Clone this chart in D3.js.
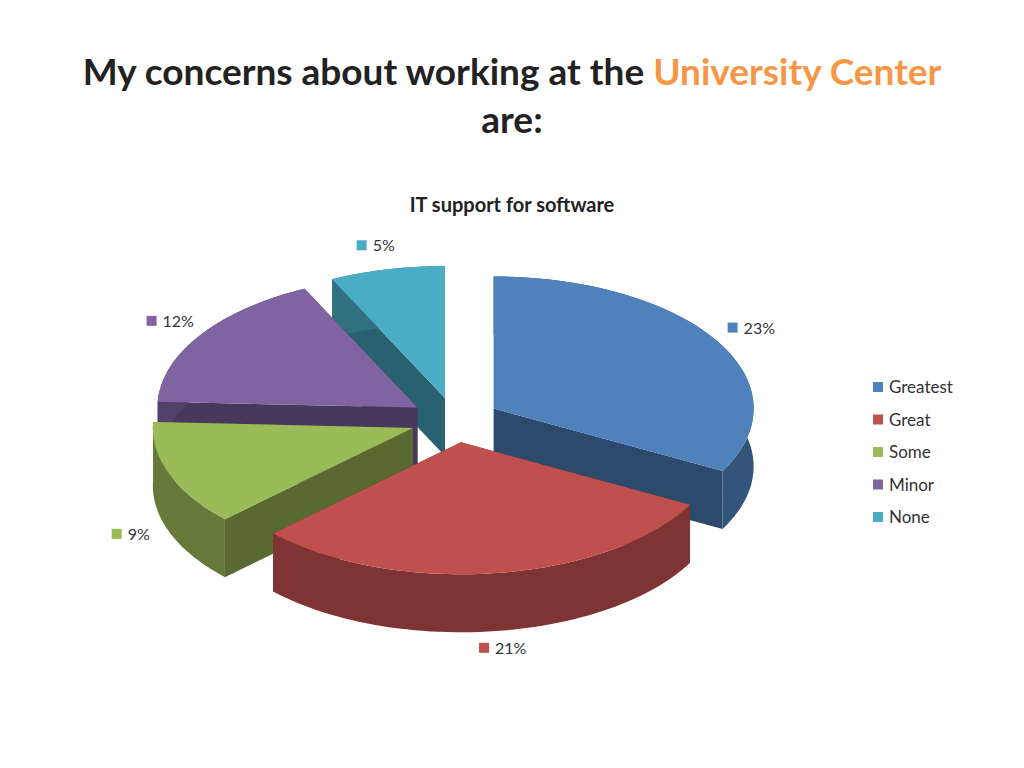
<!DOCTYPE html>
<html><head><meta charset="utf-8">
<script src="https://cdn.jsdelivr.net/npm/d3@7"></script>
<style>body{margin:0;background:#fff}text{font-family:Lato,"Open Sans",sans-serif}</style>
</head><body><svg id="chart" width="1024" height="768"></svg>
<script>
// data
var categories = ["Greatest", "Great", "Some", "Minor", "None"];
var values = [23, 21, 9, 12, 5];
var colors = ["#4F81BD", "#C0504D", "#9BBB59", "#8064A2", "#4BACC6"];

var svg = d3.select("#chart");

// title
var t = svg.append("text").attr("x", 512).attr("y", 85).attr("text-anchor", "middle")
    .style("font-size", "37px").style("font-weight", "bold").style("fill", "#222");
t.append("tspan").text("My concerns about working at the ");
t.append("tspan").style("fill", "#F79646").text("University Center");
svg.append("text").attr("x", 512).attr("y", 133).attr("text-anchor", "middle")
    .style("font-size", "37px").style("font-weight", "bold").style("fill", "#222").text("are:");
svg.append("text").attr("x", 512).attr("y", 212).attr("text-anchor", "middle")
    .style("font-size", "20px").style("font-weight", "bold").style("fill", "#222").text("IT support for software");

// pseudo 3D pie
var cx = 455, cy = 420, rx = 260, ry = 132, depth = 58, explode = 45;
var angle = d3.scaleLinear().domain([0, d3.sum(values)]).range([0, 2 * Math.PI]);
var cum = 0;
var slices = values.map(function(v, i) {
    var s = { i: i, a0: angle(cum), a1: angle(cum + v), v: v };
    cum += v;
    s.mid = (s.a0 + s.a1) / 2;
    s.ox = cx + explode * Math.sin(s.mid);
    s.oy = cy - explode * 0.5 * Math.cos(s.mid);
    return s;
});

function pt(s, a, dy) {
    return [s.ox + rx * Math.sin(a), s.oy - ry * Math.cos(a) + (dy || 0)];
}
function arcPts(s, a0, a1, dy) {
    var n = 60, out = [];
    for (var k = 0; k <= n; k++) out.push(pt(s, a0 + (a1 - a0) * k / n, dy));
    return out;
}
var line = d3.line();

slices.slice().sort(function(a, b) { return -Math.cos(a.mid) - -Math.cos(b.mid); })
  .forEach(function(s) {
    var c = d3.color(colors[s.i]);
    var g = svg.append("g");
    // radial walls
    [s.a0, s.a1].forEach(function(a) {
        var p = pt(s, a);
        g.append("path").attr("d", line([[s.ox, s.oy], p, [p[0], p[1] + depth], [s.ox, s.oy + depth]]) + "Z")
            .attr("fill", c.darker(1.6));
    });
    // outer wall
    var top = arcPts(s, s.a0, s.a1, 0), bot = arcPts(s, s.a0, s.a1, depth).reverse();
    g.append("path").attr("d", line(top.concat(bot)) + "Z").attr("fill", c.darker(1.2));
    // top
    g.append("path").attr("d", line([[s.ox, s.oy]].concat(top)) + "Z").attr("fill", c.toString());
});

// data labels
slices.forEach(function(s) {
    var lx = cx + rx * 1.32 * Math.sin(s.mid);
    var ly = cy - ry * 1.35 * Math.cos(s.mid) + (Math.cos(s.mid) < 0 ? depth * 0.9 : 0);
    svg.append("rect").attr("x", lx - 22).attr("y", ly - 6).attr("width", 10).attr("height", 10).attr("fill", colors[s.i]);
    svg.append("text").attr("x", lx - 6).attr("y", ly + 5).style("font-size", "16px").style("fill", "#333")
        .text(s.v + "%");
});

// legend
var leg = svg.append("g").attr("transform", "translate(873,382)");
categories.forEach(function(c, i) {
    leg.append("rect").attr("x", 0).attr("y", i * 32.5).attr("width", 10).attr("height", 10).attr("fill", colors[i]);
    leg.append("text").attr("x", 16).attr("y", i * 32.5 + 11).style("font-size", "17px").style("fill", "#333").text(c);
});
</script></body></html>
